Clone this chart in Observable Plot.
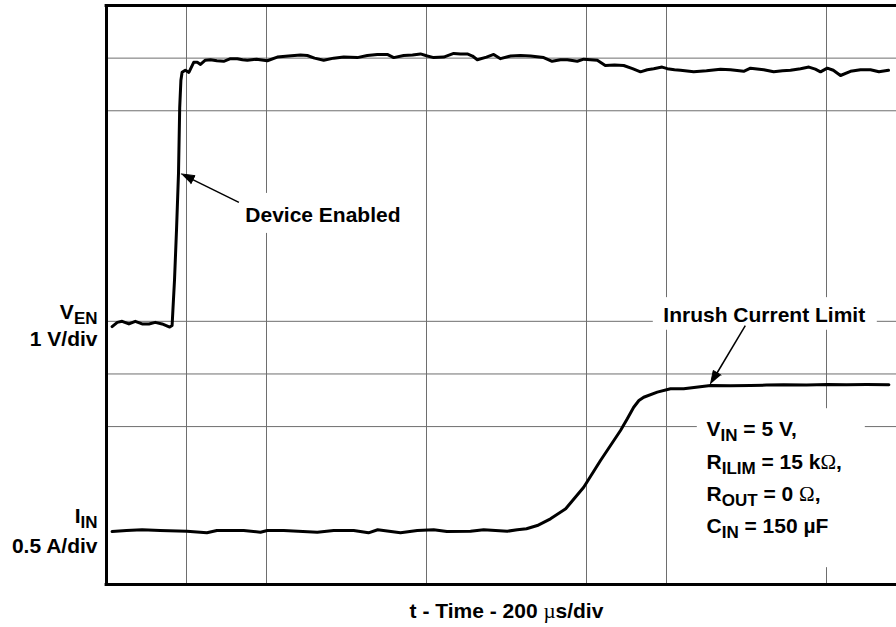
<!DOCTYPE html>
<html><head><meta charset="utf-8">
<script src="https://cdn.jsdelivr.net/npm/d3@7"></script>
<script src="https://cdn.jsdelivr.net/npm/@observablehq/plot@0.6"></script>
<style>
html,body{margin:0;padding:0;background:#fff;}
svg text{white-space:pre;}
</style></head><body>
<div id="chart"></div>
<script>
// ---- Data (time in µs, V_EN in volts, I_IN in amps) ----
const venTime = [14,27,39,56,72,89,106,122,139,158,164,166,170,175,180,183,186,189,197,206,218,227,235,247,260,276,293,310,327,340,352,375,402,427,455,485,502,520,543,568,593,627,652,677,702,718,743,765,785,802,818,843,868,885,902,915,927,950,968,985,1010,1035,1060,1093,1114,1135,1152,1177,1193,1210,1227,1247,1270,1293,1315,1335,1352,1368,1389,1402,1420,1435,1468,1500,1535,1560,1593,1610,1643,1668,1690,1710,1735,1756,1772,1785,1802,1817,1835,1860,1885,1910,1931,1955];
const venVolts = [-0.10,-0.02,0.00,-0.05,0.00,-0.05,-0.05,-0.02,-0.05,-0.11,-0.08,0.21,0.78,1.73,2.81,4.06,4.58,4.73,4.77,4.73,4.92,4.92,4.88,4.96,4.97,4.95,4.94,4.99,4.99,4.97,4.96,4.98,4.95,5.02,5.04,5.06,5.05,5.00,4.96,5.00,5.02,5.01,5.05,5.07,5.07,5.01,5.05,5.06,5.08,5.04,5.01,5.02,5.09,5.08,5.08,5.04,4.97,5.02,5.07,4.99,5.04,5.05,5.04,5.01,4.94,4.97,4.97,4.94,4.98,4.97,4.96,4.86,4.87,4.86,4.80,4.74,4.78,4.80,4.83,4.80,4.78,4.77,4.74,4.76,4.79,4.78,4.75,4.81,4.78,4.74,4.76,4.77,4.80,4.83,4.79,4.74,4.81,4.77,4.67,4.75,4.78,4.78,4.74,4.77];
const iinTime = [14,50,89,134,201,251,276,343,385,402,443,527,568,618,655,678,735,777,818,851,910,943,1002,1027,1050,1077,1110,1148,1193,1235,1260,1285,1302,1318,1331,1343,1377,1410,1443,1510,1560,1610,1650,1693,1750,1802,1850,1900,1956];
const iinAmps = [0.003,0.013,0.020,0.013,0.006,-0.009,0.013,0.013,-0.003,0.013,0.013,-0.003,0.013,0.013,-0.009,0.020,-0.009,0.013,0.020,0.003,0.006,0.020,0.006,0.020,0.030,0.060,0.124,0.219,0.424,0.678,0.820,0.963,1.074,1.184,1.248,1.279,1.327,1.359,1.359,1.390,1.388,1.390,1.394,1.397,1.396,1.400,1.397,1.399,1.397];

// scope settings
const timePerDiv = 200;      // µs/div
const voltsPerDiv = 1, venZeroDiv = 5;
const ampsPerDiv = 0.5, iinZeroDiv = 1;

// grid lines that are drawn (in divisions)
const gridXDivs = [1, 2, 4, 6, 7, 9];
const gridYDivs = [3, 4, 5, 9, 10];

// text labels (x in µs, y in divisions)
const labelTexts = ["V_{EN}", "1 V/div", "I_{IN}", "0.5 A/div"];
const labelY = [5.05, 4.54, 1.16, 0.59];
const noteTexts = ["Device Enabled", "Inrush Current Limit", "V_{IN} = 5 V,", "R_{ILIM} = 15 k~{Ω},", "R_{OUT} = 0 ~{Ω},", "C_{IN} = 150 µF"];
const noteX = [347, 1392, 1500, 1500, 1500, 1500];
const noteY = [6.88, 4.98, 2.83, 2.20, 1.58, 0.97];
const xTitle = "t - Time - 200 ~{µ}s/div";

// white label backgrounds (µs, divisions)
const boxX1 = [325, 1367, 1477];
const boxX2 = [755, 1927, 1897];
const boxY1 = [6.67, 4.83, 0.32];
const boxY2 = [7.43, 5.45, 3.34];

// arrows: from text to trace
const arrowFrom = [[331, 7.26], [1597, 4.92]];
const arrowTo = [[187, 7.80], [1510, 3.81]];

// ---- layout ----
const W = 896, H = 627, mL = 106, mR = 0, mT = 5, mB = 43;
const xDom = [0, 1975], yDom = [0, 11];
const PX = t => mL + (t - xDom[0]) / (xDom[1] - xDom[0]) * (W - mL - mR);
const PY = d => (H - mB) - (d - yDom[0]) / (yDom[1] - yDom[0]) * (H - mB - mT);
const TX = px => xDom[0] + (px - mL) / (W - mL - mR) * (xDom[1] - xDom[0]);
const DY = py => yDom[0] + ((H - mB) - py) / (H - mB - mT) * (yDom[1] - yDom[0]);

const ven = venTime.map((t, i) => ({t, d: venVolts[i] / voltsPerDiv + venZeroDiv}));
const iin = iinTime.map((t, i) => ({t, d: iinAmps[i] / ampsPerDiv + iinZeroDiv}));
const gridX = gridXDivs.map(k => k * timePerDiv);
const boxes = boxX1.map((x1, i) => ({x1, x2: boxX2[i], y1: boxY1[i], y2: boxY2[i]}));
const labels = labelTexts.map((text, i) => ({text, t: TX(97), d: labelY[i]}));
const notes = noteTexts.map((text, i) => ({text, t: noteX[i], d: noteY[i]}));

const HL = 13, HW = 4.5;
const shafts = [], heads = [];
arrowFrom.forEach((f, i) => {
  const x1 = PX(f[0]), y1 = PY(f[1]), x2 = PX(arrowTo[i][0]), y2 = PY(arrowTo[i][1]);
  const dx = x2 - x1, dy = y2 - y1, len = Math.hypot(dx, dy), ux = dx / len, uy = dy / len;
  const bx = x2 - ux * HL, by = y2 - uy * HL, nx = -uy, ny = ux;
  shafts.push({x1: f[0], y1: f[1], x2: TX(bx + ux * 2), y2: DY(by + uy * 2)});
  [[x2, y2], [bx + nx * HW, by + ny * HW], [bx - nx * HW, by - ny * HW]].forEach(([px, py]) =>
    heads.push({id: i, t: TX(px), d: DY(py)}));
});

const font = "Liberation Sans, Arial, Helvetica, sans-serif";
const gridColor = "#6e6e6e";

const svg = Plot.plot({
  width: W, height: H,
  marginLeft: mL, marginRight: mR, marginTop: mT, marginBottom: mB,
  x: {domain: xDom, axis: null},
  y: {domain: yDom, axis: null},
  style: {fontFamily: font, background: "white"},
  marks: [
    Plot.ruleX(gridX, {y1: yDom[0], y2: yDom[1], stroke: gridColor, strokeWidth: 1}),
    Plot.ruleY(gridYDivs, {x1: xDom[0], x2: xDom[1], stroke: gridColor, strokeWidth: 1}),
    Plot.rect(boxes, {x1: "x1", x2: "x2", y1: "y1", y2: "y2", fill: "white"}),
    Plot.ruleX([xDom[0]], {y1: yDom[0], y2: yDom[1], stroke: "black", strokeWidth: 3}),
    Plot.ruleY([yDom[0], yDom[1]], {x1: xDom[0] - 3.5, x2: xDom[1], stroke: "black", strokeWidth: 3}),
    Plot.line(ven, {x: "t", y: "d", stroke: "black", strokeWidth: 3, strokeLinejoin: "round", curve: "linear"}),
    Plot.line(iin, {x: "t", y: "d", stroke: "black", strokeWidth: 3, strokeLinejoin: "round", curve: "linear"}),
    Plot.link(shafts, {x1: "x1", y1: "y1", x2: "x2", y2: "y2", stroke: "black", strokeWidth: 1.5}),
    Plot.line(heads, {x: "t", y: "d", z: "id", fill: "black", stroke: "black", strokeWidth: 1}),
    Plot.text(labels, {x: "t", y: "d", text: "text", textAnchor: "end", lineAnchor: "bottom", fontSize: 21, fontWeight: "bold", fill: "black"}),
    Plot.text(notes, {x: "t", y: "d", text: "text", textAnchor: "start", lineAnchor: "bottom", fontSize: 21, fontWeight: "bold", fill: "black"}),
    Plot.text([xTitle], {x: TX(506), y: DY(617), text: d => d, textAnchor: "middle", lineAnchor: "bottom", fontSize: 21, fontWeight: "bold", fill: "black"})
  ]
});

// rich text: _{sub} -> subscript, ~{x} -> symbol-style glyph
const NS = "http://www.w3.org/2000/svg";
svg.querySelectorAll("text").forEach(el => {
  const s = el.textContent;
  if (!/_\{|~\{/.test(s)) return;
  const parts = s.split(/(_\{[^}]*\}|~\{[^}]*\})/).filter(p => p.length);
  el.textContent = "";
  let shift = 0;
  parts.forEach(p => {
    const ts = document.createElementNS(NS, "tspan");
    let want = 0;
    if (p.startsWith("_{")) {
      ts.textContent = p.slice(2, -1);
      ts.setAttribute("font-size", "17");
      want = 5;
    } else if (p.startsWith("~{")) {
      ts.textContent = p.slice(2, -1);
      ts.setAttribute("font-weight", "normal");
      ts.setAttribute("font-family", "Liberation Serif, Times New Roman, serif");
    } else {
      ts.textContent = p;
    }
    if (want !== shift) { ts.setAttribute("dy", String(want - shift)); shift = want; }
    el.appendChild(ts);
  });
});

document.getElementById("chart").appendChild(svg);
</script>
</body></html>
